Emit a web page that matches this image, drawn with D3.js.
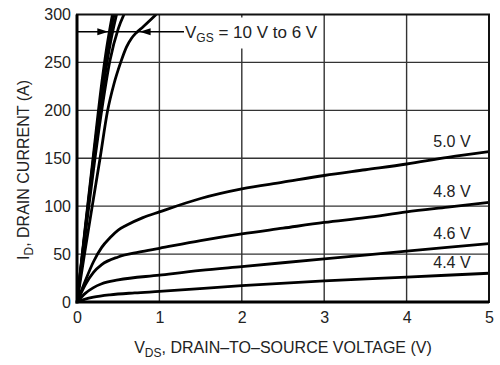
<!DOCTYPE html>
<html>
<head>
<meta charset="utf-8">
<script src="https://cdn.jsdelivr.net/npm/d3@7"></script>
<style>
  html, body { margin: 0; padding: 0; background: #fff; }
  svg { display: block; }
  text { font-family: "Liberation Sans", Arial, sans-serif; fill: #222; }
</style>
</head>
<body>
<script>
// ---- data ----
const xTicks = [0, 1, 2, 3, 4, 5];
const yTicks = [0, 50, 100, 150, 200, 250, 300];

const vgs10 = [[0,0],[0.1,78],[0.2,154],[0.3,228],[0.36,265],[0.43,300]];
const vgs9  = [[0,0],[0.1,76],[0.2,150],[0.3,220],[0.38,268],[0.45,300]];
const vgs8  = [[0,0],[0.1,74],[0.2,146],[0.3,213],[0.4,268],[0.48,300]];
const vgs7  = [[0,0],[0.1,70],[0.2,138],[0.3,200],[0.4,252],[0.5,285],[0.57,300]];
const vgs6  = [[0,0],[0.1,55],[0.2,108],[0.28,150],[0.37,199],[0.45,228],[0.53,250],[0.6,266],[0.66,275],[0.72,281],[0.8,287],[0.9,295],[0.96,300]];
const vgs50 = [[0,0],[0.1,22],[0.2,42],[0.3,57],[0.4,67],[0.5,75],[0.6,80],[0.8,88],[1,94],[1.5,108],[2,118],[2.5,125],[3,132],[3.5,138],[4,144],[4.5,151],[5,157]];
const vgs48 = [[0,0],[0.1,18],[0.2,31],[0.3,39],[0.5,47],[0.75,52],[1,56],[1.5,64],[2,71],[2.5,77],[3,83],[3.5,88],[4,94],[4.5,99],[5,104]];
const vgs46 = [[0,0],[0.1,9],[0.2,15],[0.3,19],[0.5,23],[1,28],[1.5,33],[2,37],[3,45],[4,53],[5,61]];
const vgs44 = [[0,0],[0.1,3],[0.2,5],[0.4,7.5],[0.7,9.5],[1,11],[2,17],[3,22],[4,26],[5,30]];

const steepCurves = [vgs10, vgs9, vgs8, vgs7, vgs6];
const lowCurves = [vgs50, vgs48, vgs46, vgs44];
const lowLabels = ["5.0 V", "4.8 V", "4.6 V", "4.4 V"];

const annotationCurrent = 282;      // level of the V_GS arrow line (A)
const arrowRightTipV = 0.38;        // arrow pointing at the steep bundle (V)
const arrowLeftTipV = 0.76;         // arrow pointing at the 6 V curve (V)

// ---- layout ----
const W = 500, H = 365;
const m = { left: 77, right: 11, top: 14.5, bottom: 63 };

const svg = d3.select("body").append("svg").attr("width", W).attr("height", H);

const x = d3.scaleLinear().domain([0, 5]).range([m.left, W - m.right]);
const y = d3.scaleLinear().domain([0, 300]).range([H - m.bottom, m.top]);

svg.append("defs").append("clipPath").attr("id", "clip")
  .append("rect").attr("x", x(0)).attr("y", y(300)).attr("width", x(5) - x(0)).attr("height", y(0) - y(300));

// grid
const grid = svg.append("g");
grid.selectAll("line.vx").data(xTicks.slice(1, -1)).join("line").attr("class", "vx")
  .attr("x1", d => x(d)).attr("x2", d => x(d)).attr("y1", y(0)).attr("y2", y(300))
  .attr("stroke", "#333").attr("stroke-width", 1.4);
grid.selectAll("line.hy").data(yTicks.slice(1, -1)).join("line").attr("class", "hy")
  .attr("x1", x(0)).attr("x2", x(5)).attr("y1", d => y(d)).attr("y2", d => y(d))
  .attr("stroke", "#333").attr("stroke-width", 1.4);

// axes (tick labels only)
const xAxis = svg.append("g").attr("transform", `translate(0,${y(0)})`)
  .call(d3.axisBottom(x).tickValues(xTicks).tickSize(0).tickPadding(10).tickFormat(d3.format("d")));
const yAxis = svg.append("g").attr("transform", `translate(${x(0)},0)`)
  .call(d3.axisLeft(y).tickValues(yTicks).tickSize(0).tickPadding(6).tickFormat(d3.format("d")));
[xAxis, yAxis].forEach(a => {
  a.select(".domain").remove();
  a.selectAll("text").attr("font-size", 16).attr("font-family", "Liberation Sans, Arial, sans-serif").attr("fill", "#222");
});

// layers
const bgG = svg.append("g");
const curvesG = svg.append("g").attr("clip-path", "url(#clip)");
const textG = svg.append("g");

const line = d3.line().x(d => x(d[0])).y(d => y(d[1])).curve(d3.curveMonotoneX);

// curve labels
lowCurves.forEach((c, i) => {
  const t = textG.append("text")
    .attr("x", x(4.55)).attr("y", y(c[c.length - 1][1]) - 5)
    .attr("text-anchor", "middle").attr("font-size", 16).text(lowLabels[i]);
  const b = t.node().getBBox();
  bgG.append("rect").attr("x", b.x - 2).attr("y", b.y + 1).attr("width", b.width + 4).attr("height", b.height - 2).attr("fill", "#fff");
});

// annotation text with background
const annY = y(annotationCurrent);
const annText = textG.append("text").attr("x", 185).attr("y", annY + 6).attr("font-size", 17);
annText.append("tspan").text("V");
annText.append("tspan").attr("font-size", 12).attr("dy", 4).text("GS");
annText.append("tspan").attr("dy", -4).text(" = 10 V to 6 V");
const ab = annText.node().getBBox();
bgG.append("rect").attr("x", ab.x - 1).attr("y", y(300) + 3).attr("width", ab.width + 3).attr("height", 31).attr("fill", "#fff");

// curves
curvesG.selectAll("path").data(steepCurves.concat(lowCurves)).join("path")
  .attr("d", line).attr("fill", "none").attr("stroke", "#000").attr("stroke-width", 2.8)
  .attr("stroke-linejoin", "round");

// annotation line + arrowheads
textG.append("line").attr("x1", x(0)).attr("x2", ab.x - 1).attr("y1", annY).attr("y2", annY)
  .attr("stroke", "#000").attr("stroke-width", 1.3);
const tipR = x(arrowRightTipV), tipL = x(arrowLeftTipV);
textG.append("path").attr("d", `M${tipR},${annY} L${tipR - 11},${annY - 3.5} L${tipR - 11},${annY + 3.5} Z`).attr("fill", "#000");
textG.append("path").attr("d", `M${tipL},${annY} L${tipL + 11},${annY - 3.5} L${tipL + 11},${annY + 3.5} Z`).attr("fill", "#000");

// frame
svg.append("rect").attr("x", x(0)).attr("y", y(300)).attr("width", x(5) - x(0)).attr("height", y(0) - y(300))
  .attr("fill", "none").attr("stroke", "#111").attr("stroke-width", 2);
svg.append("line").attr("x1", x(0)).attr("x2", x(0)).attr("y1", y(300)).attr("y2", y(0) + 1.5).attr("stroke", "#000").attr("stroke-width", 3);
svg.append("line").attr("x1", x(0) - 1.5).attr("x2", x(5)).attr("y1", y(0)).attr("y2", y(0)).attr("stroke", "#000").attr("stroke-width", 3);

// axis titles
const xt = svg.append("text").attr("x", 283).attr("y", 353).attr("text-anchor", "middle").attr("font-size", 16);
xt.append("tspan").text("V");
xt.append("tspan").attr("font-size", 12).attr("dy", 4).text("DS");
xt.append("tspan").attr("dy", -4).text(", DRAIN\u2013TO\u2013SOURCE VOLTAGE (V)");

const yt = svg.append("text").attr("transform", `translate(29,${170}) rotate(-90)`).attr("text-anchor", "middle").attr("font-size", 16);
yt.append("tspan").text("I");
yt.append("tspan").attr("font-size", 12).attr("dy", 4).text("D");
yt.append("tspan").attr("dy", -4).text(", DRAIN CURRENT (A)");
</script>
</body>
</html>
